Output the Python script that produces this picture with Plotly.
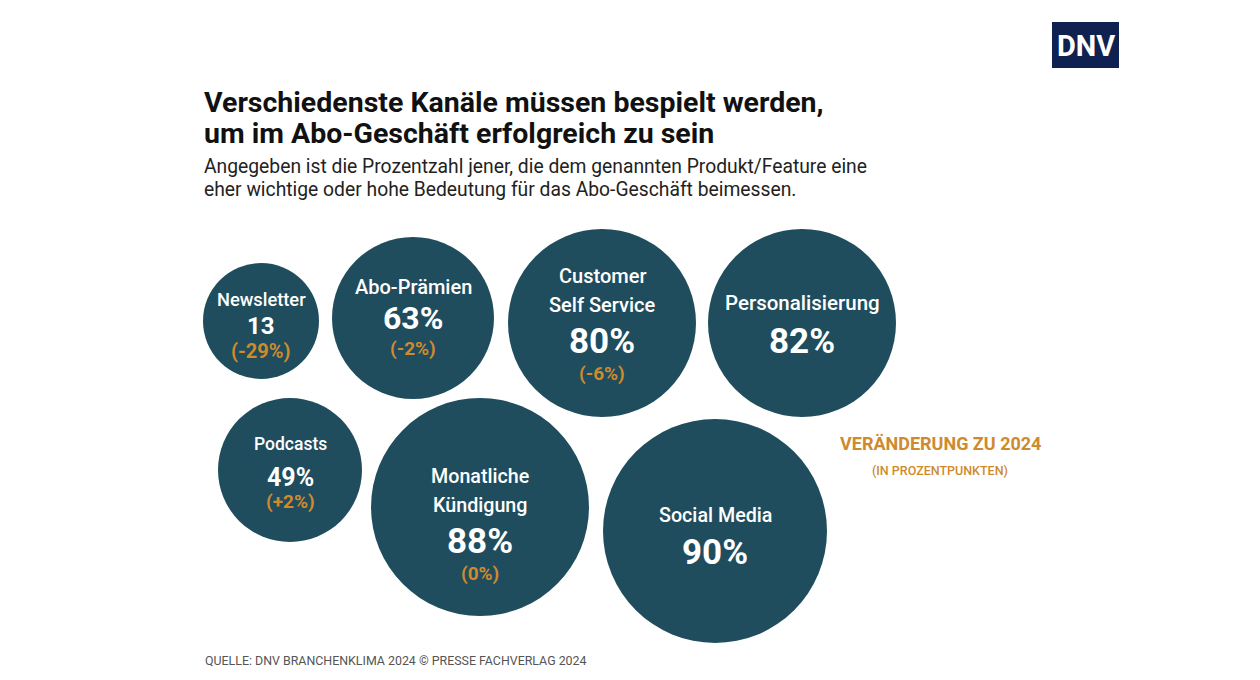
import plotly.graph_objects as go

# ---- data ----
categories = ["Newsletter", "Abo-Prämien", "Customer<br>Self Service", "Personalisierung",
              "Podcasts", "Monatliche<br>Kündigung", "Social Media"]
values = ["13", "63%", "80%", "82%", "49%", "88%", "90%"]
changes = ["(-29%)", "(-2%)", "(-6%)", "", "(+2%)", "(0%)", ""]

# ---- layout (pixel space of the 1260x680 page) ----
cx = [261, 413, 602, 802, 290, 480, 715]
cy = [321, 318, 323, 323, 470, 507, 531]
rad = [58, 81, 94, 94, 72, 109, 112]
label_y = [299, 287, 276, 303, 444, 476, 515]   # first label line
value_y = [326, 318, 341, 341, 477, 541, 552]
change_y = [351, 348, 373, 0, 501, 573, 0]
label_size = [18.3, 20, 20, 20.5, 17.5, 19.7, 19.7]
value_size = [24, 32, 35, 35, 25, 35, 35]
change_size = [20, 19, 19, 19, 19, 19, 19]
LINE_GAP = 29

TEAL = "#1f4d5e"
ORANGE = "#cf8a2e"
FONT = "Roboto"
OFF = 8  # default page margin of the html body

fig = go.Figure()
shapes = []
for x, y, r in zip(cx, cy, rad):
    shapes.append(dict(type="circle", xref="x", yref="y", x0=x - r, x1=x + r,
                       y0=y - r, y1=y + r, fillcolor=TEAL, line=dict(width=0), layer="below"))
# DNV logo box
shapes.append(dict(type="rect", xref="x", yref="y", x0=1052, x1=1119, y0=22, y1=68,
                   fillcolor="#0f2150", line=dict(width=0)))

ann = []
for i in range(len(categories)):
    for k, line in enumerate(categories[i].split("<br>")):
        ann.append(dict(x=cx[i], y=label_y[i] + k * LINE_GAP, text=line, showarrow=False,
                        font=dict(family=FONT, size=label_size[i], color="white", weight=500),
                        xanchor="center", yanchor="middle"))
    ann.append(dict(x=cx[i], y=value_y[i], text="<b>%s</b>" % values[i], showarrow=False,
                    font=dict(family=FONT, size=value_size[i], color="white"),
                    xanchor="center", yanchor="middle"))
    if changes[i]:
        ann.append(dict(x=cx[i], y=change_y[i], text="<b>%s</b>" % changes[i], showarrow=False,
                        font=dict(family=FONT, size=change_size[i], color=ORANGE),
                        xanchor="center", yanchor="middle"))

ann += [
    dict(x=202, y=102, text="<b>Verschiedenste Kanäle müssen bespielt werden,</b>", showarrow=False,
         xanchor="left", yanchor="middle", font=dict(family=FONT, size=28.5, color="#111")),
    dict(x=202, y=133, text="<b>um im Abo-Geschäft erfolgreich zu sein</b>", showarrow=False,
         xanchor="left", yanchor="middle", font=dict(family=FONT, size=28.5, color="#111")),
    dict(x=202, y=166, text="Angegeben ist die Prozentzahl jener, die dem genannten Produkt/Feature eine",
         showarrow=False, xanchor="left", yanchor="middle", font=dict(family=FONT, size=19.3, color="#222")),
    dict(x=202, y=189, text="eher wichtige oder hohe Bedeutung für das Abo-Geschäft beimessen.",
         showarrow=False, xanchor="left", yanchor="middle", font=dict(family=FONT, size=19.3, color="#222")),
    dict(x=940, y=443, text="<b>VERÄNDERUNG ZU 2024</b>", showarrow=False,
         xanchor="center", yanchor="middle", font=dict(family=FONT, size=18, color=ORANGE)),
    dict(x=940, y=470, text="(IN PROZENTPUNKTEN)", showarrow=False,
         xanchor="center", yanchor="middle", font=dict(family=FONT, size=12.5, color=ORANGE, weight=500)),
    dict(x=203, y=660, text="QUELLE: DNV BRANCHENKLIMA 2024 © PRESSE FACHVERLAG 2024", showarrow=False,
         xanchor="left", yanchor="middle", font=dict(family=FONT, size=12.4, color="#555")),
    dict(x=1085.5, y=46, text="<b>DNV</b>", showarrow=False, xanchor="center", yanchor="middle",
         font=dict(family=FONT, size=29, color="white")),
]

fig.update_layout(
    width=1260, height=680, margin=dict(l=0, r=0, t=0, b=0),
    paper_bgcolor="white", plot_bgcolor="white", showlegend=False,
    xaxis=dict(range=[OFF, 1260 + OFF], visible=False, fixedrange=True),
    yaxis=dict(range=[680 + OFF, OFF], visible=False, fixedrange=True),
    shapes=shapes, annotations=ann,
)
fig.write_html("out.html", config={"displayModeBar": False})
